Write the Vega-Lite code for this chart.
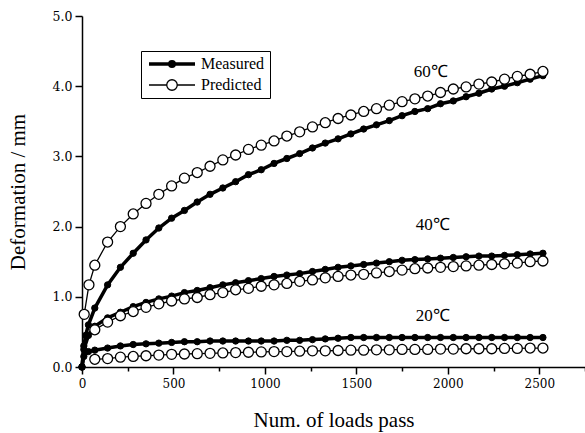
{
  "$schema": "https://vega.github.io/schema/vega-lite/v6.json",
  "width": 503,
  "height": 351,
  "autosize": "none",
  "padding": {"left": 82, "top": 16, "right": 0, "bottom": 66},
  "background": "white",
  "config": {"view": {"stroke": null}, "font": "Liberation Serif"},
  "datasets": {
    "curves": [
      {"t":"60","s":"Measured","x":0,"y":0},{"t":"60","s":"Measured","x":10,"y":0.30},{"t":"60","s":"Measured","x":20,"y":0.45},{"t":"60","s":"Measured","x":35,"y":0.60},{"t":"60","s":"Measured","x":70,"y":0.84},{"t":"60","s":"Measured","x":140,"y":1.17},{"t":"60","s":"Measured","x":210,"y":1.42},{"t":"60","s":"Measured","x":280,"y":1.62},{"t":"60","s":"Measured","x":350,"y":1.81},{"t":"60","s":"Measured","x":420,"y":1.98},{"t":"60","s":"Measured","x":490,"y":2.12},{"t":"60","s":"Measured","x":560,"y":2.23},{"t":"60","s":"Measured","x":630,"y":2.35},{"t":"60","s":"Measured","x":700,"y":2.46},{"t":"60","s":"Measured","x":770,"y":2.55},{"t":"60","s":"Measured","x":840,"y":2.64},{"t":"60","s":"Measured","x":910,"y":2.74},{"t":"60","s":"Measured","x":980,"y":2.81},{"t":"60","s":"Measured","x":1050,"y":2.90},{"t":"60","s":"Measured","x":1120,"y":2.97},{"t":"60","s":"Measured","x":1190,"y":3.04},{"t":"60","s":"Measured","x":1260,"y":3.12},{"t":"60","s":"Measured","x":1330,"y":3.19},{"t":"60","s":"Measured","x":1400,"y":3.25},{"t":"60","s":"Measured","x":1470,"y":3.32},{"t":"60","s":"Measured","x":1540,"y":3.39},{"t":"60","s":"Measured","x":1610,"y":3.45},{"t":"60","s":"Measured","x":1680,"y":3.51},{"t":"60","s":"Measured","x":1750,"y":3.58},{"t":"60","s":"Measured","x":1820,"y":3.64},{"t":"60","s":"Measured","x":1890,"y":3.68},{"t":"60","s":"Measured","x":1960,"y":3.75},{"t":"60","s":"Measured","x":2030,"y":3.79},{"t":"60","s":"Measured","x":2100,"y":3.85},{"t":"60","s":"Measured","x":2170,"y":3.90},{"t":"60","s":"Measured","x":2240,"y":3.96},{"t":"60","s":"Measured","x":2310,"y":4.00},{"t":"60","s":"Measured","x":2380,"y":4.05},{"t":"60","s":"Measured","x":2450,"y":4.10},{"t":"60","s":"Measured","x":2520,"y":4.15},
      {"t":"60","s":"Predicted","x":12,"y":0.75},{"t":"60","s":"Predicted","x":38,"y":1.17},{"t":"60","s":"Predicted","x":70,"y":1.45},{"t":"60","s":"Predicted","x":140,"y":1.78},{"t":"60","s":"Predicted","x":210,"y":2.00},{"t":"60","s":"Predicted","x":280,"y":2.18},{"t":"60","s":"Predicted","x":350,"y":2.33},{"t":"60","s":"Predicted","x":420,"y":2.46},{"t":"60","s":"Predicted","x":490,"y":2.58},{"t":"60","s":"Predicted","x":560,"y":2.69},{"t":"60","s":"Predicted","x":630,"y":2.77},{"t":"60","s":"Predicted","x":700,"y":2.86},{"t":"60","s":"Predicted","x":770,"y":2.95},{"t":"60","s":"Predicted","x":840,"y":3.02},{"t":"60","s":"Predicted","x":910,"y":3.10},{"t":"60","s":"Predicted","x":980,"y":3.16},{"t":"60","s":"Predicted","x":1050,"y":3.22},{"t":"60","s":"Predicted","x":1120,"y":3.29},{"t":"60","s":"Predicted","x":1190,"y":3.35},{"t":"60","s":"Predicted","x":1260,"y":3.42},{"t":"60","s":"Predicted","x":1330,"y":3.48},{"t":"60","s":"Predicted","x":1400,"y":3.54},{"t":"60","s":"Predicted","x":1470,"y":3.59},{"t":"60","s":"Predicted","x":1540,"y":3.64},{"t":"60","s":"Predicted","x":1610,"y":3.68},{"t":"60","s":"Predicted","x":1680,"y":3.73},{"t":"60","s":"Predicted","x":1750,"y":3.78},{"t":"60","s":"Predicted","x":1820,"y":3.82},{"t":"60","s":"Predicted","x":1890,"y":3.86},{"t":"60","s":"Predicted","x":1960,"y":3.91},{"t":"60","s":"Predicted","x":2030,"y":3.96},{"t":"60","s":"Predicted","x":2100,"y":3.99},{"t":"60","s":"Predicted","x":2170,"y":4.03},{"t":"60","s":"Predicted","x":2240,"y":4.06},{"t":"60","s":"Predicted","x":2310,"y":4.10},{"t":"60","s":"Predicted","x":2380,"y":4.14},{"t":"60","s":"Predicted","x":2450,"y":4.17},{"t":"60","s":"Predicted","x":2520,"y":4.21},
      {"t":"40","s":"Measured","x":0,"y":0},{"t":"40","s":"Measured","x":10,"y":0.25},{"t":"40","s":"Measured","x":35,"y":0.45},{"t":"40","s":"Measured","x":70,"y":0.58},{"t":"40","s":"Measured","x":140,"y":0.70},{"t":"40","s":"Measured","x":210,"y":0.78},{"t":"40","s":"Measured","x":280,"y":0.86},{"t":"40","s":"Measured","x":350,"y":0.92},{"t":"40","s":"Measured","x":420,"y":0.97},{"t":"40","s":"Measured","x":490,"y":1.01},{"t":"40","s":"Measured","x":560,"y":1.06},{"t":"40","s":"Measured","x":630,"y":1.09},{"t":"40","s":"Measured","x":700,"y":1.13},{"t":"40","s":"Measured","x":770,"y":1.17},{"t":"40","s":"Measured","x":840,"y":1.20},{"t":"40","s":"Measured","x":910,"y":1.23},{"t":"40","s":"Measured","x":980,"y":1.26},{"t":"40","s":"Measured","x":1050,"y":1.29},{"t":"40","s":"Measured","x":1120,"y":1.31},{"t":"40","s":"Measured","x":1190,"y":1.33},{"t":"40","s":"Measured","x":1260,"y":1.36},{"t":"40","s":"Measured","x":1330,"y":1.39},{"t":"40","s":"Measured","x":1400,"y":1.42},{"t":"40","s":"Measured","x":1470,"y":1.44},{"t":"40","s":"Measured","x":1540,"y":1.46},{"t":"40","s":"Measured","x":1610,"y":1.48},{"t":"40","s":"Measured","x":1680,"y":1.50},{"t":"40","s":"Measured","x":1750,"y":1.52},{"t":"40","s":"Measured","x":1820,"y":1.53},{"t":"40","s":"Measured","x":1890,"y":1.54},{"t":"40","s":"Measured","x":1960,"y":1.55},{"t":"40","s":"Measured","x":2030,"y":1.56},{"t":"40","s":"Measured","x":2100,"y":1.57},{"t":"40","s":"Measured","x":2170,"y":1.58},{"t":"40","s":"Measured","x":2240,"y":1.58},{"t":"40","s":"Measured","x":2310,"y":1.59},{"t":"40","s":"Measured","x":2380,"y":1.60},{"t":"40","s":"Measured","x":2450,"y":1.61},{"t":"40","s":"Measured","x":2520,"y":1.62},
      {"t":"40","s":"Predicted","x":70,"y":0.53},{"t":"40","s":"Predicted","x":140,"y":0.64},{"t":"40","s":"Predicted","x":210,"y":0.73},{"t":"40","s":"Predicted","x":280,"y":0.79},{"t":"40","s":"Predicted","x":350,"y":0.85},{"t":"40","s":"Predicted","x":420,"y":0.90},{"t":"40","s":"Predicted","x":490,"y":0.94},{"t":"40","s":"Predicted","x":560,"y":0.97},{"t":"40","s":"Predicted","x":630,"y":0.99},{"t":"40","s":"Predicted","x":700,"y":1.03},{"t":"40","s":"Predicted","x":770,"y":1.06},{"t":"40","s":"Predicted","x":840,"y":1.10},{"t":"40","s":"Predicted","x":910,"y":1.12},{"t":"40","s":"Predicted","x":980,"y":1.15},{"t":"40","s":"Predicted","x":1050,"y":1.17},{"t":"40","s":"Predicted","x":1120,"y":1.19},{"t":"40","s":"Predicted","x":1190,"y":1.22},{"t":"40","s":"Predicted","x":1260,"y":1.24},{"t":"40","s":"Predicted","x":1330,"y":1.27},{"t":"40","s":"Predicted","x":1400,"y":1.29},{"t":"40","s":"Predicted","x":1470,"y":1.31},{"t":"40","s":"Predicted","x":1540,"y":1.32},{"t":"40","s":"Predicted","x":1610,"y":1.34},{"t":"40","s":"Predicted","x":1680,"y":1.36},{"t":"40","s":"Predicted","x":1750,"y":1.38},{"t":"40","s":"Predicted","x":1820,"y":1.40},{"t":"40","s":"Predicted","x":1890,"y":1.41},{"t":"40","s":"Predicted","x":1960,"y":1.42},{"t":"40","s":"Predicted","x":2030,"y":1.43},{"t":"40","s":"Predicted","x":2100,"y":1.44},{"t":"40","s":"Predicted","x":2170,"y":1.45},{"t":"40","s":"Predicted","x":2240,"y":1.46},{"t":"40","s":"Predicted","x":2310,"y":1.47},{"t":"40","s":"Predicted","x":2380,"y":1.48},{"t":"40","s":"Predicted","x":2450,"y":1.50},{"t":"40","s":"Predicted","x":2520,"y":1.51},
      {"t":"20","s":"Measured","x":0,"y":0},{"t":"20","s":"Measured","x":10,"y":0.15},{"t":"20","s":"Measured","x":35,"y":0.22},{"t":"20","s":"Measured","x":70,"y":0.24},{"t":"20","s":"Measured","x":140,"y":0.27},{"t":"20","s":"Measured","x":210,"y":0.30},{"t":"20","s":"Measured","x":280,"y":0.32},{"t":"20","s":"Measured","x":350,"y":0.33},{"t":"20","s":"Measured","x":420,"y":0.34},{"t":"20","s":"Measured","x":490,"y":0.35},{"t":"20","s":"Measured","x":560,"y":0.36},{"t":"20","s":"Measured","x":630,"y":0.36},{"t":"20","s":"Measured","x":700,"y":0.37},{"t":"20","s":"Measured","x":770,"y":0.37},{"t":"20","s":"Measured","x":840,"y":0.37},{"t":"20","s":"Measured","x":910,"y":0.37},{"t":"20","s":"Measured","x":980,"y":0.37},{"t":"20","s":"Measured","x":1050,"y":0.37},{"t":"20","s":"Measured","x":1120,"y":0.38},{"t":"20","s":"Measured","x":1190,"y":0.38},{"t":"20","s":"Measured","x":1260,"y":0.39},{"t":"20","s":"Measured","x":1330,"y":0.40},{"t":"20","s":"Measured","x":1400,"y":0.41},{"t":"20","s":"Measured","x":1470,"y":0.42},{"t":"20","s":"Measured","x":1540,"y":0.42},{"t":"20","s":"Measured","x":1610,"y":0.42},{"t":"20","s":"Measured","x":1680,"y":0.42},{"t":"20","s":"Measured","x":1750,"y":0.42},{"t":"20","s":"Measured","x":1820,"y":0.42},{"t":"20","s":"Measured","x":1890,"y":0.42},{"t":"20","s":"Measured","x":1960,"y":0.42},{"t":"20","s":"Measured","x":2030,"y":0.42},{"t":"20","s":"Measured","x":2100,"y":0.42},{"t":"20","s":"Measured","x":2170,"y":0.42},{"t":"20","s":"Measured","x":2240,"y":0.42},{"t":"20","s":"Measured","x":2310,"y":0.42},{"t":"20","s":"Measured","x":2380,"y":0.42},{"t":"20","s":"Measured","x":2450,"y":0.42},{"t":"20","s":"Measured","x":2520,"y":0.42},
      {"t":"20","s":"Predicted","x":70,"y":0.11},{"t":"20","s":"Predicted","x":140,"y":0.12},{"t":"20","s":"Predicted","x":210,"y":0.14},{"t":"20","s":"Predicted","x":280,"y":0.15},{"t":"20","s":"Predicted","x":350,"y":0.16},{"t":"20","s":"Predicted","x":420,"y":0.17},{"t":"20","s":"Predicted","x":490,"y":0.18},{"t":"20","s":"Predicted","x":560,"y":0.185},{"t":"20","s":"Predicted","x":630,"y":0.19},{"t":"20","s":"Predicted","x":700,"y":0.195},{"t":"20","s":"Predicted","x":770,"y":0.20},{"t":"20","s":"Predicted","x":840,"y":0.205},{"t":"20","s":"Predicted","x":910,"y":0.21},{"t":"20","s":"Predicted","x":980,"y":0.215},{"t":"20","s":"Predicted","x":1050,"y":0.22},{"t":"20","s":"Predicted","x":1120,"y":0.22},{"t":"20","s":"Predicted","x":1190,"y":0.225},{"t":"20","s":"Predicted","x":1260,"y":0.23},{"t":"20","s":"Predicted","x":1330,"y":0.23},{"t":"20","s":"Predicted","x":1400,"y":0.235},{"t":"20","s":"Predicted","x":1470,"y":0.24},{"t":"20","s":"Predicted","x":1540,"y":0.24},{"t":"20","s":"Predicted","x":1610,"y":0.245},{"t":"20","s":"Predicted","x":1680,"y":0.245},{"t":"20","s":"Predicted","x":1750,"y":0.25},{"t":"20","s":"Predicted","x":1820,"y":0.25},{"t":"20","s":"Predicted","x":1890,"y":0.25},{"t":"20","s":"Predicted","x":1960,"y":0.255},{"t":"20","s":"Predicted","x":2030,"y":0.255},{"t":"20","s":"Predicted","x":2100,"y":0.26},{"t":"20","s":"Predicted","x":2170,"y":0.26},{"t":"20","s":"Predicted","x":2240,"y":0.26},{"t":"20","s":"Predicted","x":2310,"y":0.265},{"t":"20","s":"Predicted","x":2380,"y":0.265},{"t":"20","s":"Predicted","x":2450,"y":0.27},{"t":"20","s":"Predicted","x":2520,"y":0.27}
    ],
    "labels": [
      {"label": "60℃", "x": 1907, "y": 4.2},
      {"label": "40℃", "x": 1918, "y": 2.02},
      {"label": "20℃", "x": 1918, "y": 0.72}
    ]
  },
  "layer": [
    {
      "data": {"name": "curves"},
      "transform": [{"filter": "datum.s === 'Measured'"}],
      "mark": {"type": "line", "color": "black", "strokeWidth": 3.5},
      "encoding": {
        "x": {
          "field": "x", "type": "quantitative",
          "scale": {"domain": [0, 2750], "nice": false, "zero": false},
          "axis": {
            "values": [0, 250, 500, 750, 1000, 1250, 1500, 1750, 2000, 2250, 2500, 2750],
            "labelExpr": "datum.value % 500 === 0 ? datum.value : ''",
            "tickSize": {"condition": {"test": "datum.value % 500 === 0", "value": 7}, "value": 4},
            "title": "Num. of loads pass",
            "titleFont": "Liberation Serif", "titleFontSize": 21, "titleFontWeight": "normal", "titleColor": "black", "titlePadding": 20,
            "labelFont": "DejaVu Serif", "labelFontSize": 12, "labelColor": "black", "labelPadding": 4,
            "labelFlush": false, "labelOverlap": false,
            "tickColor": "black", "tickWidth": 1.5, "domainColor": "black", "domainWidth": 1.5, "grid": false
          }
        },
        "y": {
          "field": "y", "type": "quantitative",
          "scale": {"domain": [0, 5], "nice": false},
          "axis": {
            "values": [0, 0.25, 0.5, 0.75, 1, 1.25, 1.5, 1.75, 2, 2.25, 2.5, 2.75, 3, 3.25, 3.5, 3.75, 4, 4.25, 4.5, 4.75, 5],
            "labelExpr": "datum.value % 0.5 === 0 ? format(datum.value, '.1f') : ''",
            "tickSize": {"condition": {"test": "datum.value % 0.5 === 0", "value": 7}, "value": 4},
            "title": "Deformation / mm",
            "titleFont": "Liberation Serif", "titleFontSize": 21, "titleFontWeight": "normal", "titleColor": "black", "titlePadding": 24,
            "labelFont": "DejaVu Serif", "labelFontSize": 12.5, "labelColor": "black", "labelPadding": 3,
            "labelFlush": false, "labelOverlap": false,
            "tickColor": "black", "tickWidth": 1.5, "domainColor": "black", "domainWidth": 1.5, "grid": false
          }
        },
        "detail": {"field": "t"}
      }
    },
    {
      "data": {"name": "curves"},
      "transform": [{"filter": "datum.s === 'Predicted'"}],
      "mark": {"type": "line", "color": "black", "strokeWidth": 1.3},
      "encoding": {
        "x": {"field": "x", "type": "quantitative"},
        "y": {"field": "y", "type": "quantitative"},
        "detail": {"field": "t"}
      }
    },
    {
      "data": {"name": "curves"},
      "transform": [{"filter": "datum.s === 'Measured'"}],
      "mark": {"type": "point", "shape": "circle", "filled": true, "stroke": "black", "strokeWidth": 1, "size": 40, "opacity": 1},
      "encoding": {
        "x": {"field": "x", "type": "quantitative"},
        "y": {"field": "y", "type": "quantitative"},
        "fill": {
          "field": "s", "type": "nominal",
          "scale": {"domain": ["Measured", "Predicted"], "range": ["black", "white"]},
          "legend": {
            "title": null, "orient": "none", "legendX": 59, "legendY": 35,
            "strokeColor": "black", "fillColor": "white", "padding": 5,
            "labelFont": "Liberation Serif", "labelFontSize": 16, "labelColor": "black", "labelOffset": 39,
            "symbolSize": 100, "symbolStrokeColor": "black", "symbolStrokeWidth": 1, "symbolOpacity": 1,
            "rowPadding": 3,
            "encode": {
              "symbols": {
                "update": {
                  "shape": {"signal": "datum.value === 'Measured' ? 'M-1,0L8.2,0M4.05,0A0.45,0.45,0,1,1,3.15,0A0.45,0.45,0,1,1,4.05,0' : 'M-1,0L2.55,0M4.65,0L8.2,0M4.65,0A1.05,1.05,0,1,1,2.55,0A1.05,1.05,0,1,1,4.65,0'"},
                  "strokeWidth": {"signal": "datum.value === 'Measured' ? 3.5 : 1.3"}
                }
              }
            }
          }
        }
      }
    },
    {
      "data": {"name": "curves"},
      "transform": [{"filter": "datum.s === 'Predicted'"}],
      "mark": {"type": "point", "shape": "circle", "filled": true, "stroke": "black", "strokeWidth": 1.3, "size": 100, "opacity": 1},
      "encoding": {
        "x": {"field": "x", "type": "quantitative"},
        "y": {"field": "y", "type": "quantitative"},
        "fill": {"field": "s", "type": "nominal"}
      }
    },
    {
      "data": {"name": "labels"},
      "mark": {"type": "text", "font": "Liberation Serif", "fontSize": 17, "color": "black", "align": "center", "baseline": "middle"},
      "encoding": {
        "x": {"field": "x", "type": "quantitative"},
        "y": {"field": "y", "type": "quantitative"},
        "text": {"field": "label"}
      }
    }
  ]
}
